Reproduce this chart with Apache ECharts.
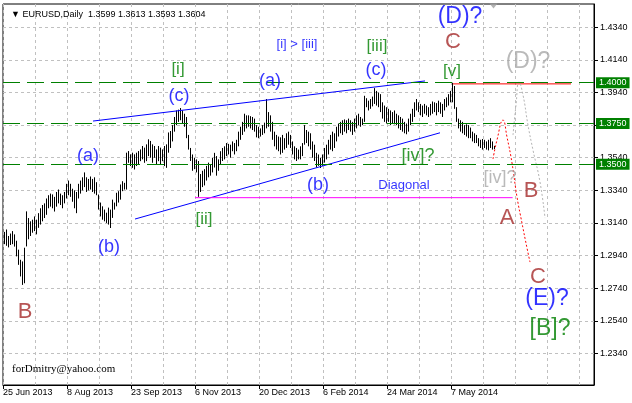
<!DOCTYPE html>
<html><head><meta charset="utf-8">
<script src="https://cdn.jsdelivr.net/npm/echarts@6/dist/echarts.min.js"></script>
<style>html,body{margin:0;padding:0;background:#fff}#c{width:632px;height:403px}</style>
</head><body><div id="c"></div>
<script>
const symbolName = 'EURUSD,Daily';
const lastBar = [1.3599, 1.3613, 1.3593, 1.3604];
const dateLabels = ['25 Jun 2013','8 Aug 2013','23 Sep 2013','6 Nov 2013','20 Dec 2013','6 Feb 2014','24 Mar 2014','7 May 2014'];
const yTicks = [1.2340,1.2540,1.2740,1.2940,1.3140,1.3340,1.3540,1.3740,1.3940,1.4140,1.4340];
const levels = [1.4000, 1.3750, 1.3500];
const highs = [
1.3085,1.3100,1.3060,1.3075,1.3090,1.3070,1.3031,1.2976,1.2914,1.2904,
1.2988,1.3211,1.3170,1.3150,1.3160,1.3180,1.3160,1.3200,1.3230,1.3250,
1.3260,1.3290,1.3310,1.3320,1.3315,1.3300,1.3330,1.3345,1.3320,1.3310,
1.3330,1.3380,1.3400,1.3380,1.3350,1.3340,1.3330,1.3380,1.3400,1.3420,
1.3450,1.3420,1.3410,1.3425,1.3410,1.3420,1.3390,1.3314,1.3265,1.3242,
1.3222,1.3203,1.3234,1.3222,1.3283,1.3265,1.3325,1.3335,1.3376,1.3396,
1.3386,1.3571,1.3581,1.3561,1.3571,1.3561,1.3571,1.3581,1.3591,1.3612,
1.3602,1.3622,1.3653,1.3643,1.3622,1.3612,1.3591,1.3612,1.3602,1.3591,
1.3612,1.3622,1.3695,1.3704,1.3740,1.3790,1.3830,1.3835,1.3845,1.3830,
1.3810,1.3790,1.3680,1.3600,1.3560,1.3540,1.3530,1.3520,1.3440,1.3460,
1.3470,1.3490,1.3510,1.3500,1.3540,1.3570,1.3550,1.3530,1.3580,1.3600,
1.3610,1.3630,1.3625,1.3620,1.3640,1.3630,1.3650,1.3700,1.3730,1.3760,
1.3810,1.3800,1.3800,1.3795,1.3790,1.3780,1.3740,1.3730,1.3720,1.3740,
1.3755,1.3900,1.3820,1.3800,1.3760,1.3700,1.3680,1.3670,1.3665,1.3680,
1.3660,1.3690,1.3700,1.3680,1.3640,1.3610,1.3600,1.3590,1.3610,1.3630,
1.3740,1.3710,1.3700,1.3690,1.3640,1.3620,1.3570,1.3560,1.3540,1.3560,
1.3600,1.3620,1.3650,1.3680,1.3700,1.3690,1.3730,1.3750,1.3760,1.3770,
1.3775,1.3770,1.3780,1.3770,1.3760,1.3780,1.3800,1.3810,1.3790,1.3780,
1.3920,1.3905,1.3890,1.3900,1.3915,1.3967,1.3950,1.3940,1.3930,1.3880,
1.3860,1.3850,1.3840,1.3830,1.3820,1.3830,1.3810,1.3800,1.3790,1.3780,
1.3760,1.3750,1.3780,1.3810,1.3840,1.3880,1.3900,1.3880,1.3870,1.3860,
1.3870,1.3860,1.3850,1.3870,1.3885,1.3880,1.3875,1.3890,1.3880,1.3870,
1.3900,1.3910,1.3930,1.3950,1.4000,1.3980,1.3850,1.3780,1.3770,1.3760,
1.3740,1.3745,1.3740,1.3725,1.3700,1.3690,1.3680,1.3660,1.3650,1.3655,
1.3650,1.3640,1.3650,1.3660,1.3640,1.3613];
const lows = [
1.3010,1.3000,1.2990,1.3005,1.3010,1.2995,1.2935,1.2883,1.2812,1.2760,
1.2770,1.2996,1.3040,1.3060,1.3080,1.3090,1.3070,1.3110,1.3130,1.3150,
1.3170,1.3190,1.3230,1.3240,1.3230,1.3210,1.3240,1.3260,1.3250,1.3230,
1.3260,1.3290,1.3310,1.3300,1.3270,1.3230,1.3200,1.3290,1.3320,1.3340,
1.3360,1.3330,1.3340,1.3345,1.3330,1.3320,1.3310,1.3222,1.3180,1.3160,
1.3150,1.3140,1.3130,1.3109,1.3171,1.3222,1.3242,1.3265,1.3283,1.3335,
1.3345,1.3345,1.3509,1.3489,1.3478,1.3468,1.3489,1.3499,1.3519,1.3530,
1.3509,1.3519,1.3550,1.3540,1.3509,1.3540,1.3499,1.3519,1.3499,1.3519,
1.3489,1.3478,1.3571,1.3600,1.3640,1.3700,1.3740,1.3760,1.3770,1.3750,
1.3730,1.3660,1.3590,1.3520,1.3460,1.3470,1.3450,1.3300,1.3330,1.3360,
1.3370,1.3400,1.3420,1.3430,1.3450,1.3480,1.3430,1.3460,1.3500,1.3520,
1.3530,1.3550,1.3560,1.3540,1.3580,1.3560,1.3580,1.3610,1.3650,1.3680,
1.3700,1.3720,1.3730,1.3720,1.3710,1.3700,1.3665,1.3660,1.3670,1.3680,
1.3690,1.3720,1.3730,1.3700,1.3650,1.3610,1.3590,1.3580,1.3560,1.3570,
1.3590,1.3600,1.3620,1.3600,1.3560,1.3530,1.3520,1.3530,1.3530,1.3550,
1.3620,1.3630,1.3610,1.3590,1.3540,1.3520,1.3480,1.3490,1.3477,1.3490,
1.3510,1.3530,1.3560,1.3590,1.3580,1.3600,1.3640,1.3670,1.3690,1.3680,
1.3700,1.3690,1.3710,1.3700,1.3680,1.3700,1.3720,1.3740,1.3730,1.3740,
1.3760,1.3850,1.3830,1.3840,1.3855,1.3870,1.3860,1.3850,1.3820,1.3780,
1.3760,1.3750,1.3760,1.3740,1.3750,1.3745,1.3740,1.3720,1.3710,1.3700,
1.3690,1.3684,1.3700,1.3740,1.3760,1.3790,1.3830,1.3820,1.3800,1.3790,
1.3810,1.3800,1.3790,1.3800,1.3810,1.3820,1.3800,1.3820,1.3810,1.3790,
1.3830,1.3850,1.3860,1.3880,1.3880,1.3840,1.3760,1.3720,1.3700,1.3690,
1.3680,1.3670,1.3660,1.3660,1.3640,1.3630,1.3630,1.3610,1.3600,1.3590,
1.3600,1.3590,1.3585,1.3600,1.3590,1.3593];

// drawn objects, in [bar index, price]
const upperLine = [[44.5,1.3765],[210.5,1.4011]];
const lowerLine = [[65.5,1.3164],[218,1.3693]];
const diagonalBase = [[95.5,1.3295],[254.3,1.3295]];
const redLevel = [[224.5,1.3993],[283.5,1.3993]];
const redPath = [[244.5,1.3532],[246.5,1.3649],[249.5,1.3771],[251.5,1.3667],[254,1.3508],[256.5,1.3299],[259,1.3139],[261.5,1.2986],[263,1.2900]];
const grayPath = [[254.5,1.3679],[256,1.3863],[257.5,1.4004],[259.5,1.3925],[262,1.3740],[264.5,1.3587],[268,1.3391],[270.5,1.3170]];
const shiftMark = [[244.75,1.4483]];

// text, bar index, price, style key
const annotations = [
 ['[i]',87,1.4084,'sub'],
 ['(c)',87.5,1.3919,'wave'],
 ['(a)',42,1.3550,'wave'],
 ['(b)',52.5,1.2992,'wave'],
 ['B',10.5,1.2593,'abc'],
 ['[ii]',100,1.3164,'sub'],
 ['(a)',133,1.4011,'wave'],
 ['[i] > [iii]',146.5,1.4238,'note'],
 ['[iii]',186.5,1.4225,'sub'],
 ['(c)',186,1.4078,'wave'],
 ['(b)',157,1.3373,'wave'],
 ['[iv]?',207,1.3550,'subQ'],
 ['Diagonal',200,1.3373,'note'],
 ['(D)?',228,1.4403,'waveBig'],
 ['C',224.5,1.4250,'abc'],
 ['[v]',224,1.4073,'sub'],
 ['(D)?',262,1.4127,'ghost'],
 ['[iv]?',248,1.3415,'ghostSmall'],
 ['B',263.5,1.3336,'abc'],
 ['A',251.5,1.3170,'abc'],
 ['C',267,1.2808,'abc'],
 ['(E)?',271.5,1.2673,'waveBig'],
 ['[B]?',273,1.2489,'greenBig']
];
const labelStyles = {
 wave:{color:'#0000ff',fontSize:18},
 waveBig:{color:'#0000ff',fontSize:23},
 abc:{color:'#a52a2a',fontSize:22},
 sub:{color:'#008000',fontSize:17},
 subQ:{color:'#008000',fontSize:18},
 greenBig:{color:'#008000',fontSize:23},
 note:{color:'#0000ff',fontSize:13},
 ghost:{color:'#a9a9a9',fontSize:23},
 ghostSmall:{color:'#a9a9a9',fontSize:18}
};

const FONT = 'Liberation Sans, Arial, sans-serif';
const BARS = 32, GRIDSTEP = 16, XMAX = 295;
const labelX = dateLabels.map((d,k)=>k*BARS-0.5);
const gridX = [];
for (let v=-0.5; v<XMAX; v+=GRIDSTEP) gridX.push(v);

const barData = highs.map((h,i)=>[i, lows[i], h]);

const chart = echarts.init(document.getElementById('c'), null, {renderer:'canvas'});
const lineS = (data, color, extra) => Object.assign({
  type:'line', data, symbol:'none', silent:true, animation:false,
  lineStyle:{color, width:1}, z:3
}, extra||{});

chart.setOption({
  backgroundColor:'#ffffff',
  animation:false,
  title:{text:'\u25BC ' + symbolName + '  ' + lastBar.map(v=>v.toFixed(4)).join(' '),
    left:6, top:5, textStyle:{fontSize:9, fontWeight:'normal', fontFamily:FONT, color:'#000'}},
  graphic:[{type:'text', left:12, top:364, style:{text:'forDmitry@yahoo.com', font:'11px "Liberation Serif", "Times New Roman", serif', fill:'#000'}}],
  grid:{left:3, top:4, width:591, height:381, show:true, borderColor:'#000', borderWidth:1, backgroundColor:'#fff'},
  xAxis:[
    {type:'value', min:-0.5, max:XMAX, position:'bottom',
     axisLine:{show:true, onZero:false, lineStyle:{color:'#000'}},
     axisTick:{show:false, customValues:gridX},
     axisLabel:{show:false},
     splitLine:{show:true, lineStyle:{color:'#c0c0c0', type:[3,3], width:1}}},
    {type:'value', min:-0.5, max:XMAX, position:'bottom', gridIndex:0,
     axisLine:{show:false, onZero:false},
     axisTick:{show:true, length:4, customValues:labelX, lineStyle:{color:'#000'}},
     axisLabel:{show:true, customValues:labelX, align:'left', margin:3, fontSize:9, fontFamily:FONT, color:'#000',
       formatter:v=>dateLabels[Math.round((v+0.5)/BARS)]||''},
     splitLine:{show:false}}
  ],
  yAxis:{type:'value', position:'right', min:1.2146, max:1.4483,
     axisLine:{show:true, onZero:false, lineStyle:{color:'#000'}},
     axisTick:{show:true, length:4, customValues:yTicks, lineStyle:{color:'#000'}},
     axisLabel:{customValues:yTicks, margin:6, fontSize:9, fontFamily:FONT, color:'#000', formatter:v=>v.toFixed(4)},
     splitLine:{show:true, lineStyle:{color:'#c0c0c0', type:[3,3], width:1}}},
  series:[
    {type:'custom', data:barData, clip:true, silent:true, z:2,
     renderItem:(params, api)=>{
       const a = api.coord([api.value(0), api.value(1)]);
       const b = api.coord([api.value(0), api.value(2)]);
       const px = Math.round(a[0]) + 0.5;
       return {type:'line', shape:{x1:px, y1:a[1], x2:px, y2:b[1]}, style:{stroke:'#000', lineWidth:1}};
     }},
    lineS(upperLine, '#0000ff', {markLine:{symbol:['none','none'], silent:true, animation:false, precision:4,
       lineStyle:{color:'#008000', type:[17,7], width:1},
       label:{show:true, position:'end', distance:2, formatter:p=>Number(p.value).toFixed(4),
         color:'#fff', backgroundColor:'#008000', fontSize:9, fontFamily:FONT, padding:[1,3,1,3], lineHeight:9},
       data:levels.map(v=>({yAxis:v}))}}),
    lineS(lowerLine, '#0000ff'),
    lineS(diagonalBase, '#ff00ff'),
    lineS(redLevel, '#ff0000'),
    lineS(redPath, '#ff0000', {smooth:0.5, lineStyle:{color:'#ff0000', width:1, type:[2,2]}}),
    lineS(grayPath, '#b0b0b0', {smooth:0.5, lineStyle:{color:'#b4b4b4', width:1, type:[2,2]}}),
    {type:'scatter', data:shiftMark, symbol:'triangle', symbolRotate:180, symbolSize:[8,5], symbolOffset:[0,2],
     itemStyle:{color:'#a0a0a0'}, silent:true, clip:false, z:4},
    {type:'scatter', symbolSize:0, silent:true, clip:false, z:5,
     data:annotations.map(a=>({value:[a[1],a[2]],
       label:{show:true, position:'inside', formatter:a[0], fontFamily:FONT,
         color:labelStyles[a[3]].color, fontSize:labelStyles[a[3]].fontSize}}))}
  ]
});
</script></body></html>
